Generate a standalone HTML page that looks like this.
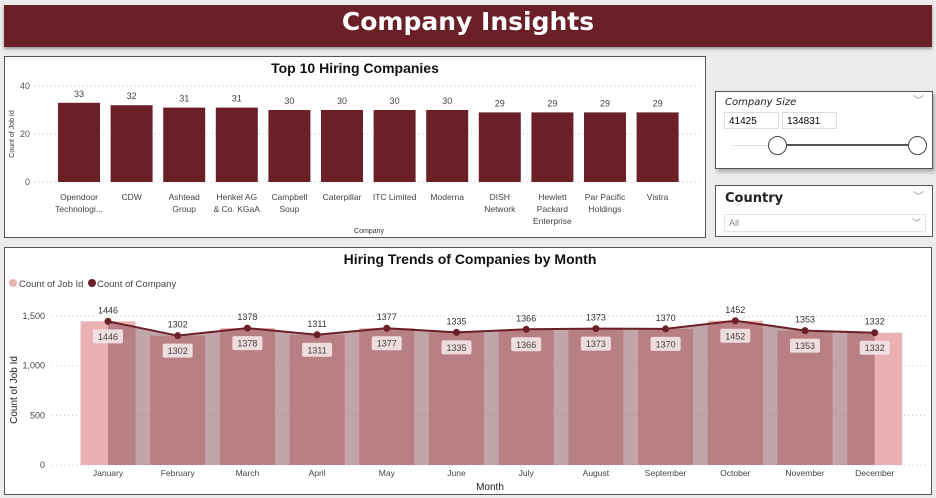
<!DOCTYPE html>
<html><head><meta charset="utf-8"><style>
body{margin:0;width:936px;height:498px;background:#ececec;font-family:"Liberation Sans",sans-serif;position:relative;overflow:hidden}
.panel{position:absolute;background:#fff;border:1px solid #555;box-sizing:border-box}
svg text{font-family:"Liberation Sans",sans-serif}
</style></head><body>
<div style="position:absolute;left:4px;top:5px;width:928px;height:42px;background:#6b2027;box-shadow:0 2px 3px #999"></div>
<div style="position:absolute;left:4px;top:7px;width:928px;height:42px;line-height:42px;text-align:center;color:#fff;font:bold 25px 'DejaVu Sans',sans-serif">Company Insights</div>

<div class="panel" style="left:4px;top:56px;width:702px;height:182px"></div>

<div class="panel" style="left:715px;top:91px;width:218px;height:78px;box-shadow:2px 3px 4px #aaa">
  <div style="position:absolute;left:9px;top:5px;font:italic 10px 'DejaVu Sans',sans-serif;color:#222">Company Size</div>
  <div style="position:absolute;right:8px;top:0px;font-size:11px;color:#999">﹀</div>
  <div style="position:absolute;left:8px;top:20px;height:17px;border:1px solid #ddd;font-size:10px;line-height:17px;padding-left:4px;box-sizing:border-box;width:55px">41425</div>
  <div style="position:absolute;left:66px;top:20px;width:55px;height:17px;border:1px solid #ddd;font-size:10px;line-height:17px;padding-left:4px;box-sizing:border-box">134831</div>
  <div style="position:absolute;left:17px;top:53px;width:46px;height:1px;background:#ddd"></div>
  <div style="position:absolute;left:63px;top:52px;width:140px;height:2px;background:#555"></div>
  <div style="position:absolute;left:52px;top:44px;width:17px;height:17px;border-radius:50%;border:1.5px solid #444;background:#fff"></div>
  <div style="position:absolute;left:192px;top:44px;width:17px;height:17px;border-radius:50%;border:1.5px solid #444;background:#fff"></div>
</div>
<div class="panel" style="left:715px;top:185px;width:218px;height:52px">
  <div style="position:absolute;left:9px;top:5px;font:bold 13px 'DejaVu Sans',sans-serif;color:#222">Country</div>
  <div style="position:absolute;right:8px;top:2px;font-size:11px;color:#999">﹀</div>
  <div style="position:absolute;left:8px;top:28px;width:202px;height:18px;border:1px solid #e4e4e4;box-sizing:border-box;font-size:9px;color:#888;line-height:17px;padding-left:4px">All<span style="position:absolute;right:4px;top:0">﹀</span></div>
</div>

<div class="panel" style="left:4px;top:247px;width:928px;height:248px"></div>
<svg id="topChart" style="position:absolute;left:0;top:0" width="936" height="498"></svg>
<svg id="botChart" style="position:absolute;left:0;top:0" width="936" height="498"></svg>

<script>
const companyLines=[["Opendoor","Technologi..."],["CDW"],["Ashtead","Group"],["Henkel AG","& Co. KGaA"],["Campbell","Soup"],["Caterpillar"],["ITC Limited"],["Moderna"],["DISH","Network"],["Hewlett","Packard","Enterprise"],["Par Pacific","Holdings"],["Vistra"]];
const jobCounts=[33,32,31,31,30,30,30,30,29,29,29,29];
const topTicks=[0,20,40];
const months=["January","February","March","April","May","June","July","August","September","October","November","December"];
const jobIdByMonth=[1446,1302,1378,1311,1377,1335,1366,1373,1370,1452,1353,1332];
const companyByMonth=[1446,1302,1378,1311,1377,1335,1366,1373,1370,1452,1353,1332];
const botTicks=[0,500,1000,1500];

const NS="http://www.w3.org/2000/svg";
function mk(svg,tag,a,txt){const e=document.createElementNS(NS,tag);for(const k in a)e.setAttribute(k,a[k]);if(txt!==undefined)e.textContent=txt;svg.appendChild(e);return e;}

const topSvg=document.getElementById('topChart');
const ty=v=>182-v*2.4, tx=i=>79+i*52.6;
let t=mk(topSvg,'text',{x:355,y:73,'text-anchor':'middle','font-size':14,'font-weight':'bold',fill:'#111'},'Top 10 Hiring Companies');


topTicks.forEach(v=>{
  let l=mk(topSvg,'line',{x1:35,x2:700,y1:ty(v),y2:ty(v),stroke:'#ccc','stroke-dasharray':'1 3'});
  
  
  let e=mk(topSvg,'text',{x:30,y:ty(v)+3,'text-anchor':'end','font-size':9,fill:'#555'},v);
  
  
});
t=mk(topSvg,'text',{x:0,y:0,transform:'translate(14,134) rotate(-90)','text-anchor':'middle','font-size':7,fill:'#333'},'Count of Job Id');


jobCounts.forEach((v,i)=>{
  let r=mk(topSvg,'rect',{x:tx(i)-21,y:ty(v),width:42,height:ty(0)-ty(v),fill:'#6b2027'});
  
  
  let e=mk(topSvg,'text',{x:tx(i),y:ty(v)-6,'text-anchor':'middle','font-size':9,fill:'#444'},v);
  
  
  companyLines[i].forEach((s,k)=>{
    let c=mk(topSvg,'text',{x:tx(i),y:200+k*12,'text-anchor':'middle','font-size':8.5,fill:'#444'},s);
    
    
  });
});
t=mk(topSvg,'text',{x:369,y:233,'text-anchor':'middle','font-size':7,fill:'#333'},'Company');



const bot=document.getElementById('botChart');
const by=v=>465-v*149/1500, bx=i=>108+i*69.7;
t=mk(bot,'text',{x:470,y:264,'text-anchor':'middle','font-size':14,'font-weight':'bold',fill:'#111'},'Hiring Trends of Companies by Month');


let g=mk(bot,'circle',{cx:13,cy:283,r:4,fill:'#eab1b4'});


t=mk(bot,'text',{x:19,y:287,'font-size':9.5,fill:'#444'},'Count of Job Id');


g=mk(bot,'circle',{cx:92,cy:283,r:4,fill:'#6b2027'});


t=mk(bot,'text',{x:97,y:287,'font-size':9.5,fill:'#444'},'Count of Company');


botTicks.forEach(v=>{
  let l=mk(bot,'line',{x1:52,x2:928,y1:by(v),y2:by(v),stroke:'#ccc','stroke-dasharray':'1 3'});
  
  
  let e=mk(bot,'text',{x:45,y:by(v)+3,'text-anchor':'end','font-size':9,fill:'#444'},v.toLocaleString('en-US'));
  
  
});
t=mk(bot,'text',{x:0,y:0,transform:'translate(17,390) rotate(-90)','text-anchor':'middle','font-size':10,fill:'#222'},'Count of Job Id');


jobIdByMonth.forEach((v,i)=>{
  let r=mk(bot,'rect',{x:bx(i)-27.5,y:by(v),width:55,height:by(0)-by(v),fill:'#eab1b4'});
  
  
});
let pts=companyByMonth.map((v,i)=>bx(i)+','+by(v));
let area=mk(bot,'polygon',{points:bx(0)+','+by(0)+' '+pts.join(' ')+' '+bx(companyByMonth.length-1)+','+by(0),fill:'rgba(138,82,88,0.52)'});


let ln=mk(bot,'polyline',{points:pts.join(' '),fill:'none',stroke:'#6b2027','stroke-width':2});


companyByMonth.forEach((v,i)=>{
  let c=mk(bot,'circle',{cx:bx(i),cy:by(v),r:3.5,fill:'#6b2027'});
  
  
  let e=mk(bot,'text',{x:bx(i),y:by(v)-8,'text-anchor':'middle','font-size':9,fill:'#333'},v);
  
  
});
jobIdByMonth.forEach((v,i)=>{
  let r=mk(bot,'rect',{x:bx(i)-15,y:by(v)+8,width:30,height:14,rx:2,fill:'rgba(245,230,231,0.9)'});
  
  
  let e=mk(bot,'text',{x:bx(i),y:by(v)+18.5,'text-anchor':'middle','font-size':9,fill:'#444'},v);
  
  
});
months.forEach((m,i)=>{
  let e=mk(bot,'text',{x:bx(i),y:476,'text-anchor':'middle','font-size':8.5,fill:'#444'},m);
  
  
});
t=mk(bot,'text',{x:490,y:490,'text-anchor':'middle','font-size':10,fill:'#222'},'Month');


</script>
</body></html>
